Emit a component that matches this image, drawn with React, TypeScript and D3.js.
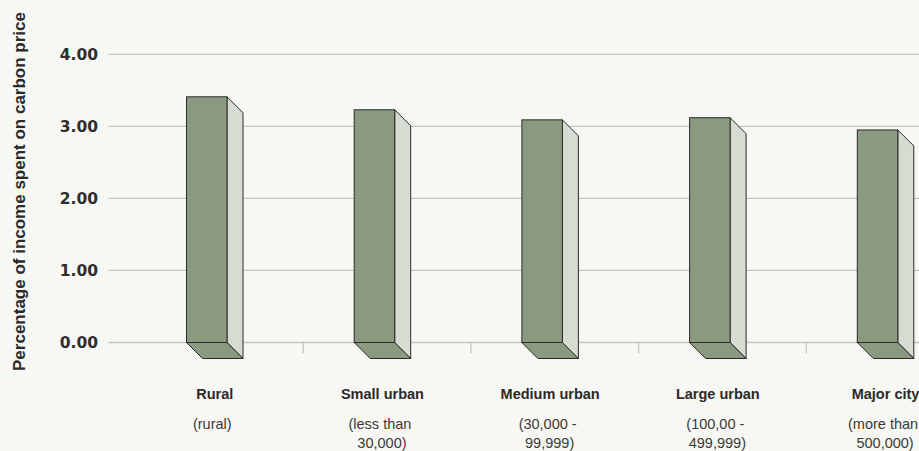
import React from "react";
import * as d3 from "d3";

const categories = ["Rural", "Small urban", "Medium urban", "Large urban", "Major city"];
const subLabels = [
  ["(rural)"],
  ["(less than", " 30,000)"],
  ["(30,000 -", " 99,999)"],
  ["(100,00 -", " 499,999)"],
  ["(more than", " 500,000)"],
];
const values = [3.41, 3.23, 3.09, 3.12, 2.95];
const yTicks = [0, 1, 2, 3, 4];
const yTitle = "Percentage of income spent on carbon price";

const W = 919;
const H = 451;

export default function App() {
  const x = d3.scaleBand<string>().domain(categories).range([135.5, 974]).padding(0);
  const y = d3.scaleLinear().domain([0, 4]).range([342.5, 54.3]);
  const fmt = d3.format(".2f");
  const barOffset = 51;
  const barW = 40.5;
  const depth = 16;
  const y0 = y(0);
  const frontFill = "#8a9a80";
  const sideFill = "#d5dcd2";
  const stroke = "#2a2a2a";

  return (
    <svg
      width={W}
      height={H}
      style={{ position: "absolute", left: 0, top: 0, background: "#f7f7f3" }}
    >
      <rect x={0} y={0} width={W} height={H} fill="#f7f7f3" />
      {/* gridlines */}
      {yTicks.map((t) => (
        <line
          key={"g" + t}
          x1={108.5}
          x2={W}
          y1={y(t)}
          y2={y(t)}
          stroke="#c4c4c4"
          strokeWidth={1.3}
        />
      ))}
      {/* category ticks */}
      {categories.slice(1).map((c) => (
        <line
          key={"t" + c}
          x1={x(c)!}
          x2={x(c)!}
          y1={y0}
          y2={y0 + 11}
          stroke="#c4c4c4"
          strokeWidth={1.3}
        />
      ))}
      {/* tick labels */}
      {yTicks.map((t) => (
        <text
          key={"l" + t}
          x={98}
          y={y(t)}
          dy="0.36em"
          textAnchor="end"
          fontFamily="'DejaVu Sans', sans-serif"
          fontWeight="bold"
          fontSize={15.5}
          fill="#2e2e2e"
        >
          {fmt(t)}
        </text>
      ))}
      {/* bars */}
      {categories.map((c, i) => {
        const bx = x(c)! + barOffset;
        const top = y(values[i]);
        const side = [
          [bx + barW, top],
          [bx + barW + depth, top + depth],
          [bx + barW + depth, y0 + depth],
          [bx + barW, y0],
        ];
        const bottom = [
          [bx, y0],
          [bx + barW, y0],
          [bx + barW + depth, y0 + depth],
          [bx + depth, y0 + depth],
        ];
        const line = d3.line();
        return (
          <g key={"b" + c}>
            <path d={line(side as [number, number][])! + "Z"} fill={sideFill} stroke={stroke} strokeWidth={1} strokeLinejoin="round" />
            <path d={line(bottom as [number, number][])! + "Z"} fill={frontFill} stroke={stroke} strokeWidth={1} strokeLinejoin="round" />
            <rect x={bx} y={top} width={barW} height={y0 - top} fill={frontFill} stroke={stroke} strokeWidth={1} />
          </g>
        );
      })}
      {/* category labels */}
      {categories.map((c, i) => {
        const cx = x(c)! + barOffset + (barW + depth) / 2;
        return (
          <g key={"c" + c} fontFamily="'Liberation Sans', Arial, sans-serif" fill="#2a2a2a">
            <text x={cx} y={399} textAnchor="middle" fontWeight="bold" fontSize={14.5}>
              {c}
            </text>
            {subLabels[i].map((s, j) => (
              <text
                key={j}
                x={cx - 2.5}
                y={429 + j * 19}
                textAnchor="middle"
                fontSize={14.5}
                fill="#3a3a3a"
                style={{ whiteSpace: "pre" }}
              >
                {s}
              </text>
            ))}
          </g>
        );
      })}
      {/* y title */}
      <text
        transform={`translate(25,${(13 + 370) / 2}) rotate(-90)`}
        textAnchor="middle"
        fontFamily="'Liberation Sans', Arial, sans-serif"
        fontWeight="bold"
        fontSize={17}
        fill="#2a2a2a"
      >
        {yTitle}
      </text>
    </svg>
  );
}
